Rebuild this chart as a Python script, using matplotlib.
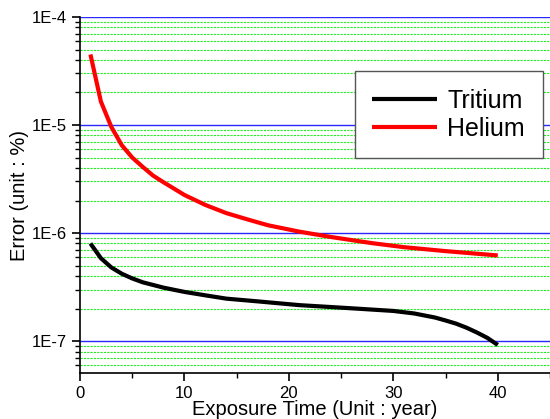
import numpy as np
import matplotlib.pyplot as plt
from matplotlib.ticker import LogLocator, FuncFormatter, MultipleLocator, NullFormatter

plt.rcParams['font.family'] = ['Liberation Sans', 'DejaVu Sans']

# 데이터
helium_x = [1, 2, 3, 4, 5, 6, 7, 8, 10, 12, 14, 16, 18, 21, 24, 26, 28, 31, 35, 40]
helium = [4.5e-5, 1.65e-5, 9.6e-6, 6.5e-6, 5.0e-6, 4.1e-6, 3.4e-6, 2.95e-6,
          2.25e-6, 1.82e-6, 1.53e-6, 1.34e-6, 1.18e-6, 1.03e-6, 9.2e-7, 8.6e-7,
          8.05e-7, 7.4e-7, 6.8e-7, 6.2e-7]
tritium_x = [1, 2, 3, 4, 5, 6, 8, 10, 12, 14, 17, 21, 26, 30, 32, 34, 35, 36, 37, 38, 39, 40]
tritium = [8.0e-7, 5.85e-7, 4.8e-7, 4.2e-7, 3.8e-7, 3.5e-7, 3.12e-7, 2.85e-7,
           2.65e-7, 2.47e-7, 2.33e-7, 2.15e-7, 2.01e-7, 1.9e-7, 1.8e-7, 1.65e-7,
           1.55e-7, 1.45e-7, 1.33e-7, 1.2e-7, 1.07e-7, 9.2e-8]

fig = plt.figure(figsize=(5.5, 4.19), dpi=100)
ax = fig.add_axes([80 / 550, 1 - 373 / 419, 470 / 550, 356 / 419])

ax.plot(tritium_x, tritium, color='black', lw=3, label='Tritium', solid_capstyle='butt')
ax.plot(helium_x, helium, color='red', lw=3, label='Helium', solid_capstyle='butt')

ax.set_yscale('log')
ax.set_xlim(0, 45)
ax.set_ylim(5.06e-8, 1e-4)

ax.xaxis.set_major_locator(MultipleLocator(10))
ax.xaxis.set_minor_locator(MultipleLocator(5))
ax.yaxis.set_major_locator(LogLocator(base=10, numticks=10))
ax.yaxis.set_minor_locator(LogLocator(base=10, subs=np.arange(2, 10), numticks=20))
ax.yaxis.set_major_formatter(FuncFormatter(lambda v, p: f'1E{int(round(np.log10(v)))}'))
ax.yaxis.set_minor_formatter(NullFormatter())

ax.grid(which='major', axis='y', color='#2828ff', lw=1.0, ls='-')
ax.grid(which='minor', axis='y', color='#22ee22', lw=0.8, ls=(0, (2, 1)))

for s in ['top', 'right']:
    ax.spines[s].set_visible(False)
ax.spines['left'].set_linewidth(1.2)
ax.spines['bottom'].set_linewidth(1.2)

ax.tick_params(which='major', direction='out', length=6, width=1.2, labelsize=12)
ax.tick_params(which='minor', direction='out', length=3.5, width=1.0)

ax.set_xlabel('Exposure Time (Unit : year)', fontsize=14.5, labelpad=-1)
ax.set_ylabel('Error (unit : %)', fontsize=14.5, labelpad=2)

leg = ax.legend(loc='upper right', bbox_to_anchor=(1.0, 0.868), fontsize=18,
                frameon=True, fancybox=False, edgecolor='#555555', framealpha=1,
                handlelength=2.6, handletextpad=0.4, borderpad=0.7, labelspacing=0.15,
                borderaxespad=0.3)
leg.get_frame().set_linewidth(1.0)

plt.savefig('out.png', dpi=100)
